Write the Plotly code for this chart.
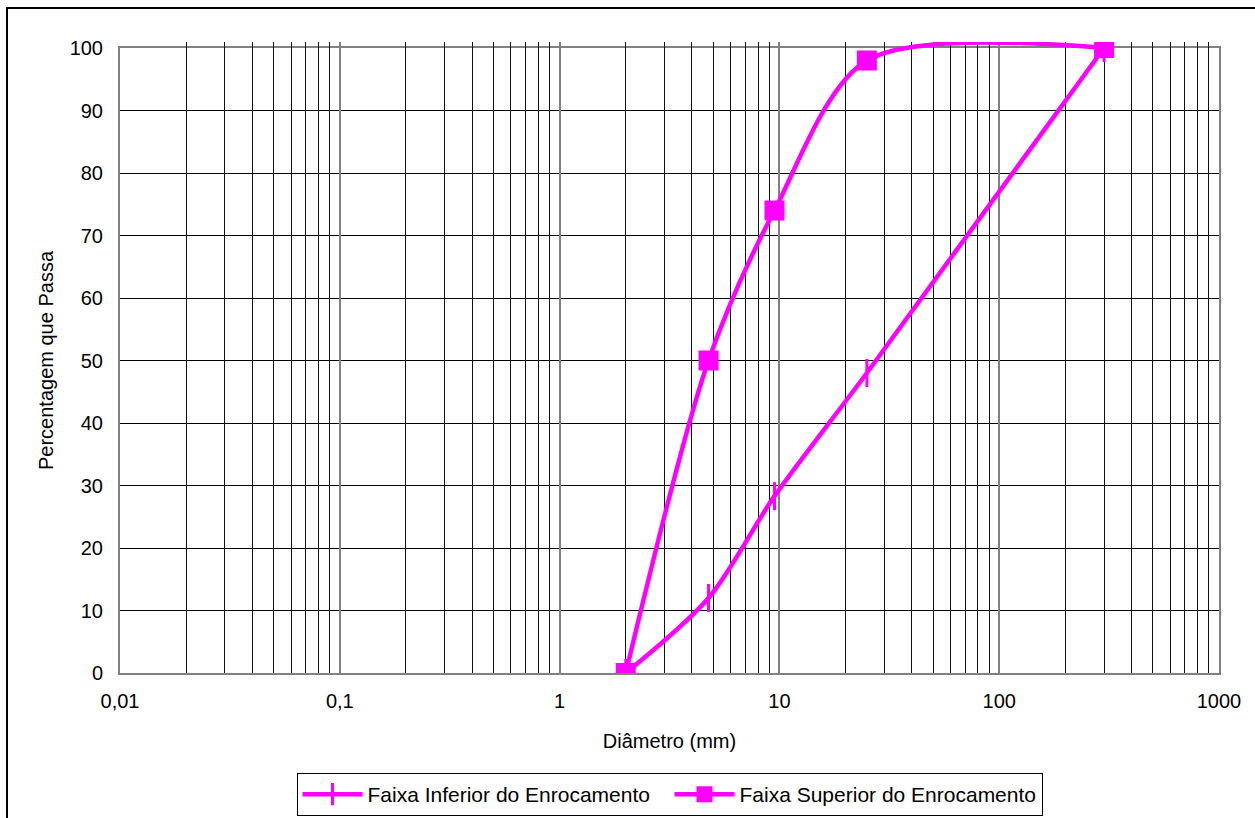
import plotly.graph_objects as go

# Data
diam_inf = [2.0, 4.76, 9.5, 25.0, 300.0]
pass_inf = [0, 12, 28.3, 48, 100]
diam_sup = [2.0, 4.76, 9.5, 25.0, 300.0]
pass_sup = [0, 50, 74, 98, 100]
name_inf = "Faixa Inferior do Enrocamento"
name_sup = "Faixa Superior do Enrocamento"
x_tickvals = [0.01, 0.1, 1, 10, 100, 1000]
x_ticktext = ["0,01", "0,1", "1", "10", "100", "1000"]
y_tickvals = [0, 10, 20, 30, 40, 50, 60, 70, 80, 90, 100]

W, H = 1255, 818
T, B, L, R = 42, 145, 120, 36
plot_h = H - T - B           # full paper height
frame_h = 625                # visible frame height
dom_top = frame_h / plot_h
y2_top = 100 * plot_h / frame_h

mag = "#FF00FF"
font = "Liberation Sans, Arial, sans-serif"
fig = go.Figure()
# empty trace so the framed main subplot (x, y) exists
fig.add_trace(go.Scatter(x=[], y=[], showlegend=False, hoverinfo="skip", yaxis="y"))
fig.add_trace(go.Scatter(
    x=diam_inf, y=pass_inf, name=name_inf, mode="lines+markers", yaxis="y2",
    line=dict(color=mag, width=4.5, shape="spline", smoothing=0.85),
    marker=dict(symbol="line-ns", size=20, line=dict(color=mag, width=3), color=mag),
))
fig.add_trace(go.Scatter(
    x=diam_sup, y=pass_sup, name=name_sup, mode="lines+markers", yaxis="y2",
    line=dict(color=mag, width=4.5, shape="spline", smoothing=0.85),
    marker=dict(symbol="square", size=20, color=mag),
))

fig.update_layout(
    width=W, height=H,
    margin=dict(l=L, r=R, t=T, b=B),
    paper_bgcolor="white", plot_bgcolor="rgba(0,0,0,0)",
    font=dict(family=font, size=20, color="black"),
    showlegend=True,
    legend=dict(orientation="h", x=0.5, xanchor="center", yref="container",
                y=(H - 816) / H, yanchor="bottom",
                bordercolor="black", borderwidth=1, font=dict(size=21, family=font),
                bgcolor="white", itemwidth=60, entrywidth=297, tracegroupgap=0),
    xaxis=dict(
        type="log", range=[-2, 3], tickvals=x_tickvals, ticktext=x_ticktext,
        showgrid=True, gridcolor="#808080", gridwidth=2,
        minor=dict(showgrid=True, dtick="D1", gridcolor="#111111", gridwidth=1),
        showline=True, linecolor="#808080", linewidth=2, mirror=True,
        ticks="", zeroline=False, automargin=False, ticklabelstandoff=9,
        anchor="y",
        title=dict(text="Diâmetro (mm)", font=dict(size=20), standoff=23),
    ),
    yaxis=dict(
        range=[0, 100], tickvals=y_tickvals, domain=[0, dom_top],
        showgrid=True, gridcolor="#000000", gridwidth=1,
        showline=True, linecolor="#808080", linewidth=2, mirror=True,
        ticks="", zeroline=False, ticklabelstandoff=11, automargin=False,
        title=dict(text="Percentagem que Passa", font=dict(size=20), standoff=11),
    ),
    yaxis2=dict(
        range=[0, y2_top], domain=[0, 1], anchor="x",
        visible=False, showgrid=False, zeroline=False,
    ),
)
fig.add_shape(type="rect", xref="paper", yref="paper",
              x0=(7 - L) / 1099, x1=1.2, y0=-0.4, y1=(H - B - 8) / plot_h,
              line=dict(color="black", width=2), fillcolor="rgba(0,0,0,0)", layer="below")
fig.write_html("out.html")
